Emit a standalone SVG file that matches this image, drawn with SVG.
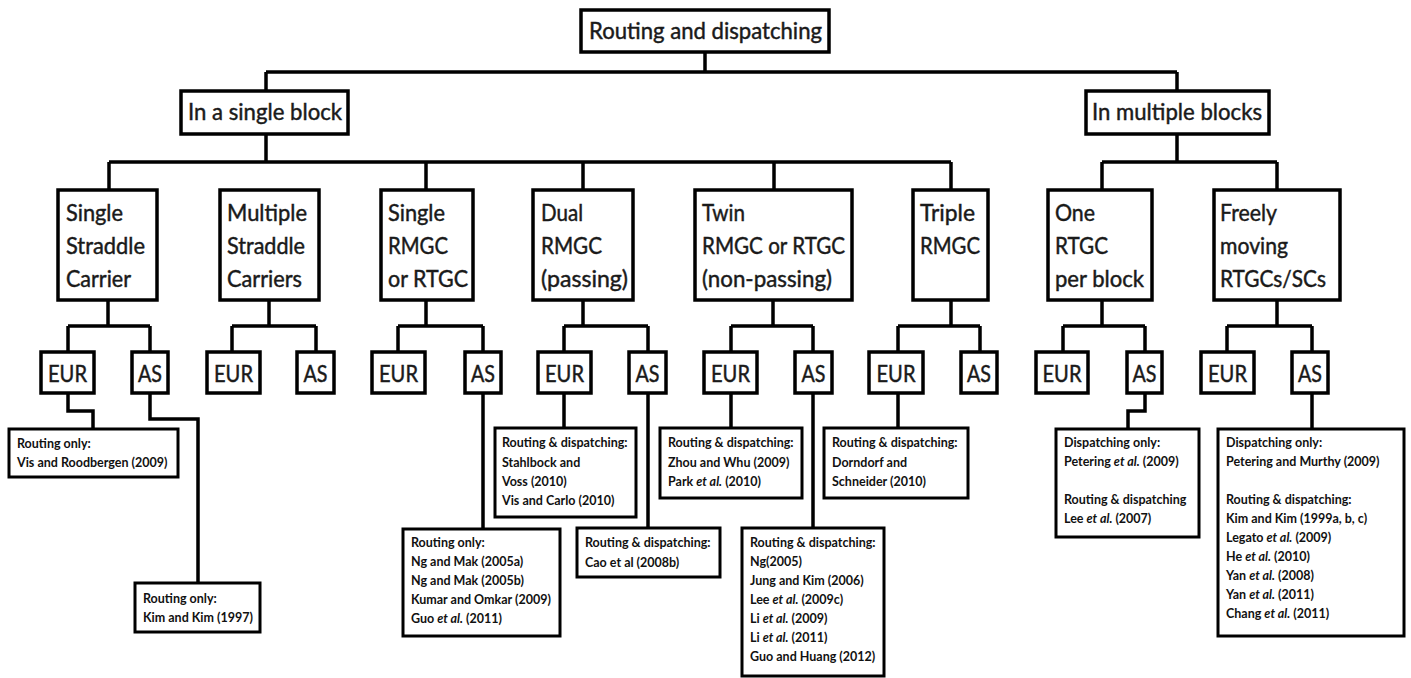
<svg xmlns="http://www.w3.org/2000/svg" width="1411" height="678" viewBox="0 0 1411 678">
<style>
.b{fill:#fff;stroke:#000;stroke-width:3.5}
.l{fill:#fff;stroke:#000;stroke-width:3}
.c{fill:none;stroke:#000;stroke-width:3.5}
.t{font-family:Lato,"Liberation Sans",sans-serif;font-size:23px;fill:#1a1a1a;stroke:#1a1a1a;stroke-width:0.45}
.s{font-family:Lato,"Liberation Sans",sans-serif;font-size:12.5px;font-weight:bold;fill:#111}
</style>
<rect width="1411" height="678" fill="#fff"/>
<g id="connectors">
<path class="c" d="M705,52V72M266,72H1177M266,72V91M1177,72V91"/>
<path class="c" d="M266,134V162M109,162H951M109,162V190M426,162V190M583,162V190M774,162V190M951,162V190"/>
<path class="c" d="M1177,134V162M1102,162H1277M1102,162V190M1277,162V190"/>
<path class="c" d="M108,300V326M68,326H150M68,326V352M150,326V352"/>
<path class="c" d="M269,300V326M232,326H316M232,326V352M316,326V352"/>
<path class="c" d="M426,300V326M398,326H483M398,326V352M483,326V352"/>
<path class="c" d="M583,300V326M564,326H648M564,326V352M648,326V352"/>
<path class="c" d="M773,300V326M731,326H813M731,326V352M813,326V352"/>
<path class="c" d="M951,300V326M898,326H980M898,326V352M980,326V352"/>
<path class="c" d="M1102,300V326M1063,326H1145M1063,326V352M1145,326V352"/>
<path class="c" d="M1277,300V326M1227,326H1312M1227,326V352M1312,326V352"/>
<path class="c" d="M68,393V411H93V429M150,393V419H198V583"/>
<path class="c" d="M483,393V529M564,393V428M648,393V528M731,393V428M813,393V528M898,393V428"/>
<path class="c" d="M1145,393V411H1128V429M1312,393V429"/>
</g>
<g id="root"><rect class="b" x="581" y="10" width="248" height="42"/><text class="t" x="589" y="39" textLength="233" lengthAdjust="spacingAndGlyphs">Routing and dispatching</text></g>
<g id="single-block"><rect class="b" x="181" y="91" width="167" height="43"/><text class="t" x="188" y="120" textLength="154" lengthAdjust="spacingAndGlyphs">In a single block</text></g>
<g id="multiple-blocks"><rect class="b" x="1086" y="91" width="183" height="43"/><text class="t" x="1092" y="120" textLength="170" lengthAdjust="spacingAndGlyphs">In multiple blocks</text></g>
<g id="ssc"><rect class="b" x="58" y="190" width="99" height="110"/>
<text class="t" x="66" y="221" textLength="57" lengthAdjust="spacingAndGlyphs">Single</text>
<text class="t" x="66" y="254" textLength="79" lengthAdjust="spacingAndGlyphs">Straddle</text>
<text class="t" x="66" y="287" textLength="65" lengthAdjust="spacingAndGlyphs">Carrier</text></g>
<g id="msc"><rect class="b" x="220" y="190" width="99" height="110"/>
<text class="t" x="227" y="221" textLength="80" lengthAdjust="spacingAndGlyphs">Multiple</text>
<text class="t" x="227" y="254" textLength="78" lengthAdjust="spacingAndGlyphs">Straddle</text>
<text class="t" x="227" y="287" textLength="75" lengthAdjust="spacingAndGlyphs">Carriers</text></g>
<g id="srmgc"><rect class="b" x="381" y="190" width="92" height="110"/>
<text class="t" x="388" y="221" textLength="57" lengthAdjust="spacingAndGlyphs">Single</text>
<text class="t" x="388" y="254" textLength="60" lengthAdjust="spacingAndGlyphs">RMGC</text>
<text class="t" x="388" y="287" textLength="80" lengthAdjust="spacingAndGlyphs">or RTGC</text></g>
<g id="drmgc"><rect class="b" x="533" y="190" width="100" height="110"/>
<text class="t" x="541" y="221" textLength="42" lengthAdjust="spacingAndGlyphs">Dual</text>
<text class="t" x="541" y="254" textLength="61" lengthAdjust="spacingAndGlyphs">RMGC</text>
<text class="t" x="541" y="287" textLength="87" lengthAdjust="spacingAndGlyphs">(passing)</text></g>
<g id="twin"><rect class="b" x="695" y="190" width="157" height="110"/>
<text class="t" x="702" y="221" textLength="43" lengthAdjust="spacingAndGlyphs">Twin</text>
<text class="t" x="702" y="254" textLength="143" lengthAdjust="spacingAndGlyphs">RMGC or RTGC</text>
<text class="t" x="702" y="287" textLength="130" lengthAdjust="spacingAndGlyphs">(non-passing)</text></g>
<g id="triple"><rect class="b" x="913" y="190" width="75" height="110"/>
<text class="t" x="920" y="221" textLength="55" lengthAdjust="spacingAndGlyphs">Triple</text>
<text class="t" x="920" y="254" textLength="60" lengthAdjust="spacingAndGlyphs">RMGC</text></g>
<g id="one-rtgc"><rect class="b" x="1048" y="190" width="104" height="110"/>
<text class="t" x="1055" y="221" textLength="40" lengthAdjust="spacingAndGlyphs">One</text>
<text class="t" x="1055" y="254" textLength="53" lengthAdjust="spacingAndGlyphs">RTGC</text>
<text class="t" x="1055" y="287" textLength="89" lengthAdjust="spacingAndGlyphs">per block</text></g>
<g id="freely"><rect class="b" x="1214" y="190" width="126" height="110"/>
<text class="t" x="1220" y="221" textLength="57" lengthAdjust="spacingAndGlyphs">Freely</text>
<text class="t" x="1220" y="254" textLength="68" lengthAdjust="spacingAndGlyphs">moving</text>
<text class="t" x="1220" y="287" textLength="106" lengthAdjust="spacingAndGlyphs">RTGCs/SCs</text></g>
<g id="ssc-eur"><rect class="b" x="41" y="352" width="53" height="41"/><text class="t" x="48" y="382" textLength="39" lengthAdjust="spacingAndGlyphs">EUR</text></g>
<g id="ssc-as"><rect class="b" x="132" y="352" width="36" height="41"/><text class="t" x="138" y="382" textLength="24" lengthAdjust="spacingAndGlyphs">AS</text></g>
<g id="msc-eur"><rect class="b" x="207" y="352" width="53" height="41"/><text class="t" x="214" y="382" textLength="39" lengthAdjust="spacingAndGlyphs">EUR</text></g>
<g id="msc-as"><rect class="b" x="297" y="352" width="37" height="41"/><text class="t" x="303.5" y="382" textLength="24" lengthAdjust="spacingAndGlyphs">AS</text></g>
<g id="srmgc-eur"><rect class="b" x="372" y="352" width="53" height="41"/><text class="t" x="379" y="382" textLength="39" lengthAdjust="spacingAndGlyphs">EUR</text></g>
<g id="srmgc-as"><rect class="b" x="465" y="352" width="36" height="41"/><text class="t" x="471" y="382" textLength="24" lengthAdjust="spacingAndGlyphs">AS</text></g>
<g id="drmgc-eur"><rect class="b" x="538" y="352" width="53" height="41"/><text class="t" x="545" y="382" textLength="39" lengthAdjust="spacingAndGlyphs">EUR</text></g>
<g id="drmgc-as"><rect class="b" x="629" y="352" width="37" height="41"/><text class="t" x="635.5" y="382" textLength="24" lengthAdjust="spacingAndGlyphs">AS</text></g>
<g id="twin-eur"><rect class="b" x="704" y="352" width="53" height="41"/><text class="t" x="711" y="382" textLength="39" lengthAdjust="spacingAndGlyphs">EUR</text></g>
<g id="twin-as"><rect class="b" x="795" y="352" width="37" height="41"/><text class="t" x="801.5" y="382" textLength="24" lengthAdjust="spacingAndGlyphs">AS</text></g>
<g id="triple-eur"><rect class="b" x="869" y="352" width="54" height="41"/><text class="t" x="876.5" y="382" textLength="39" lengthAdjust="spacingAndGlyphs">EUR</text></g>
<g id="triple-as"><rect class="b" x="961" y="352" width="36" height="41"/><text class="t" x="967" y="382" textLength="24" lengthAdjust="spacingAndGlyphs">AS</text></g>
<g id="one-eur"><rect class="b" x="1036" y="352" width="52" height="41"/><text class="t" x="1042.5" y="382" textLength="39" lengthAdjust="spacingAndGlyphs">EUR</text></g>
<g id="one-as"><rect class="b" x="1127" y="352" width="35" height="41"/><text class="t" x="1132.5" y="382" textLength="24" lengthAdjust="spacingAndGlyphs">AS</text></g>
<g id="freely-eur"><rect class="b" x="1201" y="352" width="53" height="41"/><text class="t" x="1208" y="382" textLength="39" lengthAdjust="spacingAndGlyphs">EUR</text></g>
<g id="freely-as"><rect class="b" x="1292" y="352" width="36" height="41"/><text class="t" x="1298" y="382" textLength="24" lengthAdjust="spacingAndGlyphs">AS</text></g>
<g id="leaf-ssc-eur"><rect class="l" x="9" y="429" width="169" height="48"/><text class="s" x="17" y="448">Routing only:<tspan x="17" y="467">Vis and Roodbergen (2009)</tspan></text></g>
<g id="leaf-ssc-as"><rect class="l" x="135" y="583" width="125" height="49"/><text class="s" x="143" y="603">Routing only:<tspan x="143" y="622">Kim and Kim (1997)</tspan></text></g>
<g id="leaf-srmgc-as"><rect class="l" x="403" y="529" width="157" height="107"/><text class="s" x="411" y="547">Routing only:<tspan x="411" y="566">Ng and Mak (2005a)</tspan><tspan x="411" y="585">Ng and Mak (2005b)</tspan><tspan x="411" y="604">Kumar and Omkar  (2009)</tspan><tspan x="411" y="623">Guo <tspan font-style="italic">et al.</tspan> (2011)</tspan></text></g>
<g id="leaf-drmgc-eur"><rect class="l" x="495" y="428" width="141" height="89"/><text class="s" x="502" y="447">Routing &amp; dispatching:<tspan x="502" y="467">Stahlbock and</tspan><tspan x="502" y="486">Voss (2010)</tspan><tspan x="502" y="505">Vis and Carlo (2010)</tspan></text></g>
<g id="leaf-drmgc-as"><rect class="l" x="577" y="528" width="143" height="49"/><text class="s" x="585" y="547">Routing &amp; dispatching:<tspan x="585" y="567">Cao et al (2008b)</tspan></text></g>
<g id="leaf-twin-eur"><rect class="l" x="660" y="428" width="142" height="70"/><text class="s" x="668" y="447">Routing &amp; dispatching:<tspan x="668" y="467">Zhou and Whu (2009)</tspan><tspan x="668" y="486">Park <tspan font-style="italic">et al.</tspan> (2010)</tspan></text></g>
<g id="leaf-twin-as"><rect class="l" x="742" y="528" width="142" height="148"/><text class="s" x="750" y="547">Routing &amp; dispatching:<tspan x="750" y="566">Ng(2005)</tspan><tspan x="750" y="585">Jung and  Kim (2006)</tspan><tspan x="750" y="604">Lee <tspan font-style="italic">et al.</tspan> (2009c)</tspan><tspan x="750" y="623">Li <tspan font-style="italic">et al.</tspan> (2009)</tspan><tspan x="750" y="642">Li <tspan font-style="italic">et al.</tspan> (2011)</tspan><tspan x="750" y="661">Guo and Huang (2012)</tspan></text></g>
<g id="leaf-triple-eur"><rect class="l" x="824" y="428" width="144" height="70"/><text class="s" x="832" y="447">Routing &amp; dispatching:<tspan x="832" y="467">Dorndorf and</tspan><tspan x="832" y="486">Schneider  (2010)</tspan></text></g>
<g id="leaf-one-as"><rect class="l" x="1056" y="429" width="143" height="108"/><text class="s" x="1064" y="447">Dispatching only:<tspan x="1064" y="466">Petering <tspan font-style="italic">et al.</tspan> (2009)</tspan><tspan x="1064" y="504">Routing &amp; dispatching</tspan><tspan x="1064" y="523">Lee <tspan font-style="italic">et al.</tspan> (2007)</tspan></text></g>
<g id="leaf-freely-as"><rect class="l" x="1218" y="429" width="186" height="207"/><text class="s" x="1226" y="447">Dispatching only:<tspan x="1226" y="466">Petering and  Murthy (2009)</tspan><tspan x="1226" y="504">Routing &amp; dispatching:</tspan><tspan x="1226" y="523">Kim and Kim (1999a, b, c)</tspan><tspan x="1226" y="542">Legato <tspan font-style="italic">et al.</tspan> (2009)</tspan><tspan x="1226" y="561">He <tspan font-style="italic">et al.</tspan> (2010)</tspan><tspan x="1226" y="580">Yan <tspan font-style="italic">et al.</tspan> (2008)</tspan><tspan x="1226" y="599">Yan <tspan font-style="italic">et al.</tspan> (2011)</tspan><tspan x="1226" y="618">Chang <tspan font-style="italic">et al.</tspan> (2011)</tspan></text></g>
</svg>
